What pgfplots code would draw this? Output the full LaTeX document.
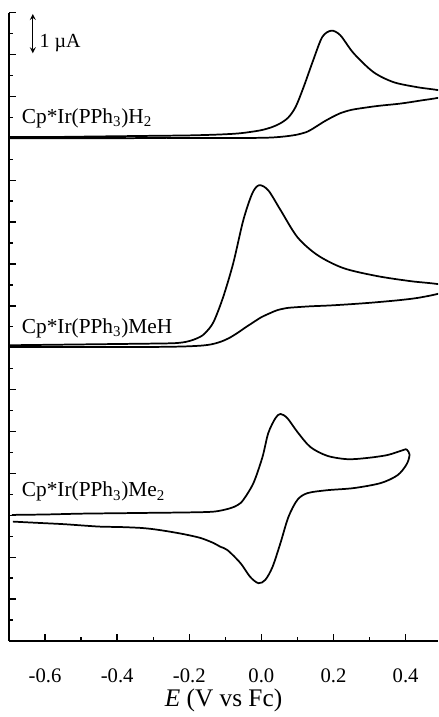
\documentclass[border=0pt]{standalone}
\usepackage{fontspec}
\setmainfont{Liberation Serif}
\usepackage{pgfplots}
\pgfplotsset{compat=1.18}
\pgfplotsset{cv/.style={black, line width=1.3pt, smooth, tension=0.5, mark=none}}

\begin{document}
\begin{tikzpicture}
\begin{axis}[
  scale only axis, width=321.75pt, height=471.2pt,
  xmin=-0.7, xmax=0.49, ymin=0, ymax=15,
  axis x line*=bottom, axis y line*=left,
  axis line style={line width=1.5pt, -},
  xtick={-0.6,-0.4,-0.2,0,0.2,0.4},
  minor xtick={-0.5,-0.3,-0.1,0.1,0.3},
  ytick={0,1,...,15}, yticklabels={},
  minor ytick={0.5,1.5,...,14.5},
  tick align=inside, major tick length=5pt, minor tick length=3pt,
  every tick/.style={line width=1pt, black},
  /pgf/number format/assume math mode=true,
  xticklabel style={font=\fontsize{15.5}{15.5}\selectfont, anchor=base, yshift=-31pt,
    /pgf/number format/fixed, /pgf/number format/precision=1,
    /pgf/number format/fixed zerofill},
  xlabel={\textit{E} (V vs Fc)},
  xlabel style={at={(axis description cs:0.5,0)}, anchor=base, yshift=-49pt,
    font=\fontsize{19}{19}\selectfont},
]
% Cp*Ir(PPh3)H2
\addplot[cv] coordinates {
(-0.70,12.03)(-0.60,12.03)(-0.50,12.04)(-0.40,12.05)(-0.30,12.06)(-0.20,12.07)
(-0.12,12.09)(-0.06,12.12)(-0.003,12.19)(0.03,12.27)(0.053,12.36)(0.075,12.50)
(0.095,12.75)(0.117,13.22)(0.144,13.87)(0.169,14.42)(0.194,14.57)
(0.219,14.46)(0.256,14.03)(0.311,13.58)(0.367,13.34)(0.433,13.22)(0.5,13.13)
(0.5,12.99)(0.44,12.90)(0.386,12.83)(0.33,12.78)(0.294,12.74)(0.25,12.68)(0.219,12.60)
(0.195,12.50)(0.172,12.39)(0.15,12.27)(0.128,12.16)(0.10,12.09)(0.07,12.05)
(0.03,12.02)(-0.02,12.01)(-0.10,12.01)(-0.20,12.01)(-0.30,12.01)(-0.40,12.00)
(-0.50,12.00)(-0.60,12.00)(-0.70,12.00)};
% Cp*Ir(PPh3)MeH
\addplot[cv] coordinates {
(-0.70,7.06)(-0.60,7.07)(-0.50,7.08)(-0.40,7.09)(-0.30,7.10)(-0.24,7.11)(-0.21,7.14)
(-0.189,7.19)(-0.17,7.26)(-0.156,7.35)(-0.133,7.61)
(-0.106,8.21)(-0.078,9.02)(-0.050,10.05)(-0.025,10.69)(-0.006,10.88)(0.019,10.76)
(0.053,10.29)(0.100,9.64)(0.156,9.21)(0.228,8.90)(0.322,8.71)(0.414,8.59)(0.5,8.50)
(0.5,8.32)(0.44,8.20)(0.386,8.14)(0.31,8.08)(0.247,8.04)(0.19,8.01)(0.136,7.99)
(0.10,7.97)(0.072,7.95)(0.045,7.90)(0.025,7.83)(0.00,7.73)(-0.022,7.61)(-0.045,7.48)
(-0.067,7.35)(-0.09,7.23)(-0.114,7.14)(-0.14,7.08)(-0.169,7.05)(-0.22,7.03)
(-0.30,7.02)(-0.40,7.02)(-0.50,7.02)(-0.60,7.02)(-0.70,7.02)};
% Cp*Ir(PPh3)Me2
\addplot[cv] coordinates {
(-0.692,3.01)(-0.60,3.02)(-0.50,3.04)(-0.40,3.05)(-0.30,3.06)(-0.20,3.07)
(-0.13,3.09)(-0.086,3.17)(-0.065,3.25)(-0.050,3.37)(-0.022,3.77)
(0.003,4.39)(0.019,4.96)(0.039,5.32)(0.053,5.42)(0.072,5.32)(0.100,4.99)(0.136,4.63)
(0.183,4.42)(0.239,4.34)(0.294,4.37)(0.350,4.44)(0.394,4.56)(0.403,4.57)(0.411,4.45)
(0.403,4.22)(0.378,3.96)(0.331,3.77)(0.256,3.65)(0.183,3.60)(0.128,3.53)(0.100,3.37)
(0.075,2.96)(0.053,2.34)(0.031,1.77)(0.011,1.46)(-0.008,1.38)(-0.031,1.53)(-0.058,1.86)
(-0.094,2.17)(-0.114,2.25)(-0.133,2.34)(-0.169,2.46)(-0.215,2.55)(-0.261,2.62)
(-0.30,2.67)(-0.336,2.70)(-0.39,2.72)(-0.447,2.73)(-0.50,2.76)(-0.55,2.79)
(-0.62,2.82)(-0.689,2.85)};

\begin{scope}[every node/.style={anchor=base west, inner sep=0pt, font=\fontsize{16}{16}\selectfont}]
\node at (axis cs:-0.665,12.36) {Cp*Ir(PPh\textsubscript{3})H\textsubscript{2}};
\node at (axis cs:-0.665,7.35) {Cp*Ir(PPh\textsubscript{3})MeH};
\node at (axis cs:-0.665,3.44) {Cp*Ir(PPh\textsubscript{3})Me\textsubscript{2}};
\end{scope}
% scale bar
\draw[<->, >=stealth, line width=1pt] (axis cs:-0.634,14.03) -- (axis cs:-0.634,14.97);
\node[anchor=base west, inner sep=0pt, font=\fontsize{15}{15}\selectfont]
  at (axis cs:-0.616,14.18) {1 µA};
\end{axis}
\pgfresetboundingbox
\path[use as bounding box] ([shift={(-6.75pt,-57pt)}]current axis.south west)
  rectangle ([shift={(0pt,9.5pt)}]current axis.north east);
\end{tikzpicture}
\end{document}
